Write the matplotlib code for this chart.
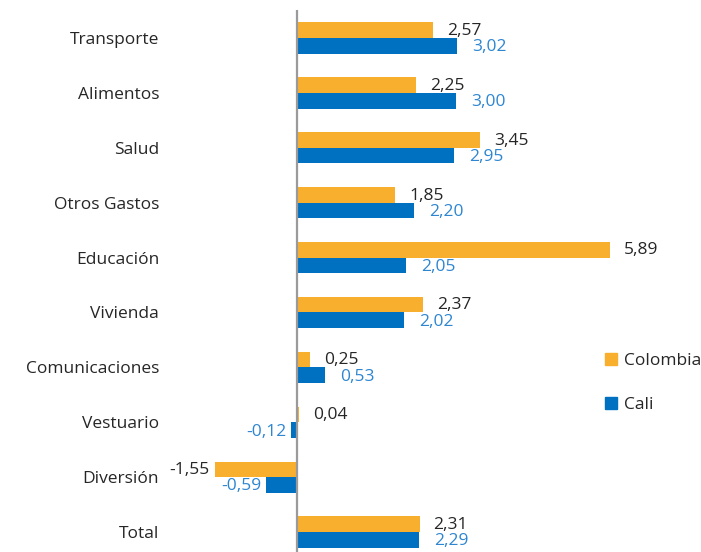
import matplotlib
matplotlib.use("Agg")
import matplotlib.pyplot as plt
from matplotlib.patches import Patch
import numpy as np

plt.rcParams['font.family'] = ['Open Sans', 'DejaVu Sans']

categories = ["Transporte", "Alimentos", "Salud", "Otros Gastos", "Educación",
              "Vivienda", "Comunicaciones", "Vestuario", "Diversión", "Total"]
colombia = [2.57, 2.25, 3.45, 1.85, 5.89, 2.37, 0.25, 0.04, -1.55, 2.31]
cali = [3.02, 3.00, 2.95, 2.20, 2.05, 2.02, 0.53, -0.12, -0.59, 2.29]
series_names = ["Colombia", "Cali"]

c_col = "#F9AF2E"
c_cali = "#0070C0"
c_cali_txt = "#2E86D1"
c_txt = "#262626"

W, H = 701, 552
fig = plt.figure(figsize=(W / 100, H / 100), dpi=100)
L, R, T, B = 205, 615, 10, 552
ax = fig.add_axes([L / W, 1 - B / H, (R - L) / W, (B - T) / H])

px_per_unit = 53.1
zero_px = 297
ax.set_xlim((L - zero_px) / px_per_unit, (R - zero_px) / px_per_unit)

y = np.arange(len(categories))
row_px = 54.9
first_px = 38
ax.set_ylim(len(categories) - 1 + (B - (first_px + row_px * (len(categories) - 1))) / row_px,
            -(first_px - T) / row_px)

h = 0.285
ax.barh(y - h / 2, colombia, height=h, color=c_col, label=series_names[0])
ax.barh(y + h / 2, cali, height=h, color=c_cali, label=series_names[1])

ax.axvline(0, color="#9A9A9A", linewidth=1.6, zorder=3)

fmt = lambda v: f"{v:.2f}".replace(".", ",")
for yi, v in zip(y, colombia):
    off = 10 if v >= 0 else -4
    ax.annotate(fmt(v), (v, yi - h / 2), xytext=(off, -0.5), textcoords="offset points",
                ha="left" if v >= 0 else "right", va="center", fontsize=12.5,
                color=c_txt, annotation_clip=False)
for yi, v in zip(y, cali):
    off = 11 if v >= 0 else -3
    ax.annotate(fmt(v), (v, yi + h / 2), xytext=(off, -1), textcoords="offset points",
                ha="left" if v >= 0 else "right", va="center", fontsize=12.5,
                color=c_cali_txt, annotation_clip=False)

ax.set_yticks(y)
ax.set_yticklabels(categories, fontsize=12.5, color=c_txt)
ax.tick_params(axis="y", length=0, pad=33)
ax.set_xticks([])
for s in ax.spines.values():
    s.set_visible(False)

handles = [Patch(color=c_col), Patch(color=c_cali)]
fig.legend(handles, series_names, loc="center left",
           bbox_to_anchor=(596 / W, 1 - 383 / H), frameon=False, fontsize=12.5,
           handlelength=0.7, handleheight=0.7, handletextpad=0.4, labelspacing=1.6,
           borderpad=0, labelcolor=c_txt)

fig.savefig("out.png", dpi=100)
